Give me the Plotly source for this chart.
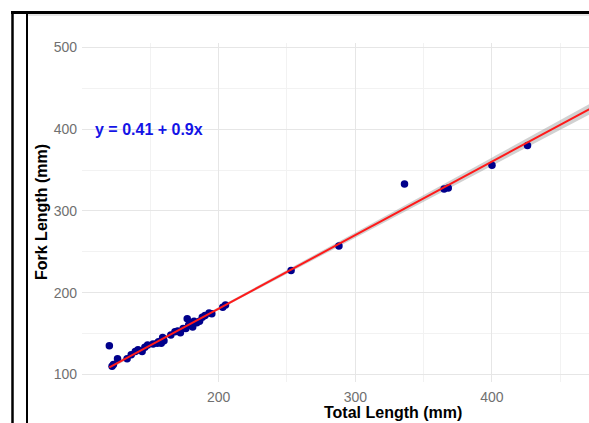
import numpy as np
import plotly.graph_objects as go

# ---- data ----
total_length = [120, 122, 123, 126, 133, 136, 139, 141, 144, 146, 148, 152, 155, 156,
                158, 159, 160, 165, 168, 170, 172, 174, 176, 177, 178, 179, 181, 182,
                184, 186, 188, 190, 193, 195, 203, 205, 253, 288, 336, 365, 368, 400, 426]
fork_length = [135, 110, 112, 119, 119, 124, 128, 130, 128, 133, 136, 137, 138, 140,
               138, 145, 141, 148, 152, 153, 151, 156, 156, 168, 160, 163, 158, 165,
               163, 165, 170, 172, 175, 174, 182, 185, 227, 257, 333, 327, 328, 356, 380]
intercept = 0.41
slope = 0.9
equation_label = "y = 0.41 + 0.9x"
x_ticks = [200, 300, 400]
y_ticks = [100, 200, 300, 400, 500]
x_minor = [150, 250, 350, 450]
y_minor = [150, 250, 350, 450]

x_range = [100, 471]
y_range = [90.6, 505.6]

tl = np.array(total_length, dtype=float)
fl = np.array(fork_length, dtype=float)

# fitted line and confidence band
xs = np.linspace(tl.min(), x_range[1] + 5, 200)
ys = intercept + slope * xs
resid = fl - (intercept + slope * tl)
n = len(tl)
s = np.sqrt(np.sum(resid ** 2) / (n - 2))
sxx = np.sum((tl - tl.mean()) ** 2)
se = s * np.sqrt(1.0 / n + (xs - tl.mean()) ** 2 / sxx)
band_mult = 1.6
upper = ys + band_mult * se
lower = ys - band_mult * se

FONT = "Liberation Sans, Arial, Helvetica, sans-serif"

fig = go.Figure()
fig.add_trace(go.Scatter(x=np.concatenate([xs, xs[::-1]]),
                         y=np.concatenate([upper, lower[::-1]]),
                         fill="toself", fillcolor="rgba(153,153,153,0.45)",
                         line=dict(width=0), hoverinfo="skip", showlegend=False))
fig.add_trace(go.Scatter(x=total_length, y=fork_length, mode="markers",
                         marker=dict(color="#00008B", size=7.5, line=dict(width=0)),
                         showlegend=False))
fig.add_trace(go.Scatter(x=xs, y=ys, mode="lines",
                         line=dict(color="#FF1A1A", width=2), showlegend=False))

W, H = 589, 423
# plot area in page pixels
PL, PR, PT, PB = 82, 589, 43, 382
pw, ph = PR - PL, PB - PT


def px(x):
    return (x - PL) / pw


def py(y):
    return (PB - y) / ph


fig.update_layout(
    width=W, height=H,
    margin=dict(l=PL, r=W - PR, t=PT, b=H - PB, pad=0),
    paper_bgcolor="white", plot_bgcolor="white",
    font=dict(family=FONT),
    xaxis=dict(range=x_range, tickvals=x_ticks, showgrid=True, gridcolor="#E6E6E6",
               gridwidth=1, zeroline=False, showline=False, ticks="",
               ticklabelstandoff=5,
               tickfont=dict(size=14, color="#707070"),
               minor=dict(tickvals=x_minor, showgrid=True,
                          gridcolor="#F2F2F2", gridwidth=1, ticks="")),
    yaxis=dict(range=y_range, tickvals=y_ticks, showgrid=True, gridcolor="#E6E6E6",
               gridwidth=1, zeroline=False, showline=False, ticks="",
               ticklabelstandoff=4,
               tickfont=dict(size=14, color="#707070"),
               minor=dict(tickvals=y_minor, showgrid=True,
                          gridcolor="#F2F2F2", gridwidth=1, ticks="")),
    annotations=[
        dict(x=108, y=400, xref="x", yref="y", text=f"<b>{equation_label}</b>",
             showarrow=False, xanchor="left", yanchor="middle",
             font=dict(size=16, color="#1414E6", family=FONT)),
        dict(x=px(393), y=py(412.5), xref="paper", yref="paper",
             text="<b>Total Length (mm)</b>", showarrow=False,
             xanchor="center", yanchor="middle",
             font=dict(size=16, color="black", family=FONT)),
        dict(x=px(41), y=py(212), xref="paper", yref="paper",
             text="<b>Fork Length (mm)</b>", showarrow=False, textangle=-90,
             xanchor="center", yanchor="middle",
             font=dict(size=16, color="black", family=FONT)),
    ],
    shapes=[
        dict(type="line", xref="paper", yref="paper", x0=px(11), x1=px(595),
             y0=py(12.5), y1=py(12.5), line=dict(color="black", width=3)),
        dict(type="line", xref="paper", yref="paper", x0=px(28), x1=px(595),
             y0=py(15), y1=py(15), line=dict(color="#CCCCCC", width=1)),
        dict(type="line", xref="paper", yref="paper", x0=px(12.5), x1=px(12.5),
             y0=py(11), y1=py(430), line=dict(color="black", width=2.5)),
        dict(type="line", xref="paper", yref="paper", x0=px(27), x1=px(27),
             y0=py(13), y1=py(430), line=dict(color="black", width=2)),
    ],
)

fig.write_html(
    "out.html",
    config={"displayModeBar": False},
    post_script="document.body.style.margin='0';document.body.style.overflow='hidden';",
)
